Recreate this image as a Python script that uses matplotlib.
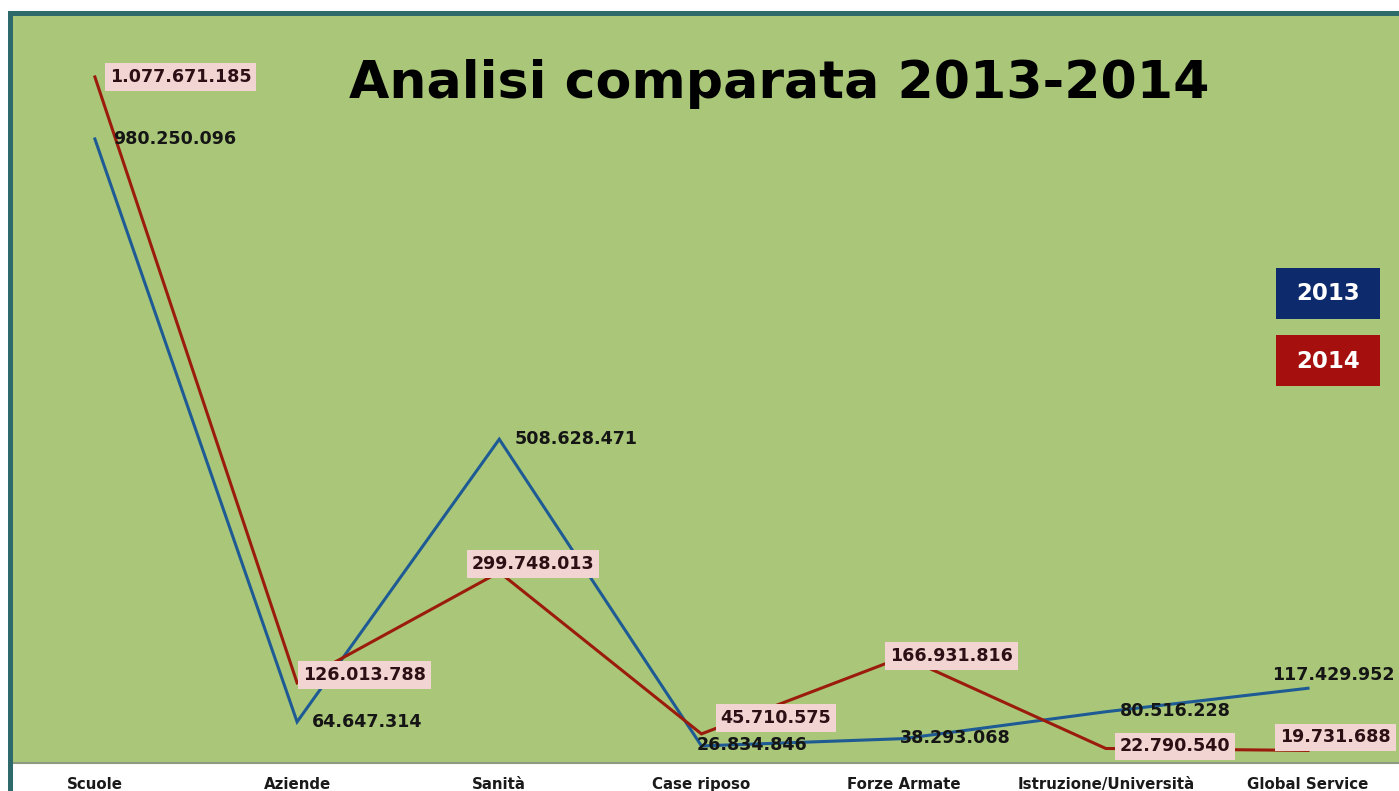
"""Analisi comparata 2013-2014 - line chart"""

import matplotlib.pyplot as plt
from matplotlib.lines import Line2D
from matplotlib.patches import Rectangle

categorie = ["Scuole", "Aziende", "Sanità", "Case riposo", "Forze Armate",
             "Istruzione/Università", "Global Service"]
valori_2013 = [980250096, 64647314, 508628471, 26834846, 38293068, 80516228, 117429952]
valori_2014 = [1077671185, 126013788, 299748013, 45710575, 166931816, 22790540, 19731688]
serie = ["2013", "2014"]

# label offsets in pixels (dx, dy, ha)
offset_2013 = [(18, 0, "left"), (15, 0, "left"), (15, 0, "left"), (-5, 1, "left"),
               (-4, 1, "left"), (14, 1, "left"), (-36, 13, "left")]
offset_2014 = [(15, 0, "left"), (6, 8, "left"), (34, 8, "center"), (19, 16, "left"),
               (48, 1, "center"), (14, 2, "left"), (-28, 13, "left")]

verde = "#aac779"
blu = "#1e5b94"
rosso = "#9b1b0c"
teal = "#2e6a6c"


def formatta(v):
    return f"{v:,}".replace(",", ".")


W, H = 1399, 791
fig = plt.figure(figsize=(W / 100, H / 100), dpi=100)
fig.patch.set_facecolor("white")
ax = fig.add_axes([12 / W, 28 / H, 1387 / W, 748 / H])
ax.set_facecolor(verde)

x = list(range(len(categorie)))
ax.plot(x, valori_2013, color=blu, lw=2.2, solid_joinstyle="miter", zorder=2)
ax.plot(x, valori_2014, color=rosso, lw=2.2, solid_joinstyle="miter", zorder=2)

for i, v in enumerate(valori_2013):
    dx, dy, ha = offset_2013[i]
    ax.annotate(formatta(v), (i, v), xytext=(dx, dy), textcoords="offset pixels",
                ha=ha, va="center", fontsize=12.6, fontweight="bold",
                family="DejaVu Sans", color="#151515", zorder=4)

for i, v in enumerate(valori_2014):
    dx, dy, ha = offset_2014[i]
    ax.annotate(formatta(v), (i, v), xytext=(dx, dy), textcoords="offset pixels",
                ha=ha, va="center", fontsize=12.6, fontweight="bold",
                family="DejaVu Sans", color="#2b0f14", zorder=5,
                bbox=dict(boxstyle="square,pad=0.28", fc="#f2d4d2", ec="none"))

ax.set_xlim(-0.41, 6.45)
ax.set_ylim(0, 1175e6)
ax.set_yticks([])
ax.set_xticks(x)
ax.set_xticklabels(categorie, fontsize=10.8, fontweight="bold", family="DejaVu Sans",
                   color="#1a1a1a")
ax.tick_params(axis="x", length=0, pad=10)
for s in ["top", "left", "right"]:
    ax.spines[s].set_visible(False)
ax.spines["bottom"].set_color("#8c9a80")
ax.spines["bottom"].set_linewidth(1.5)

# teal frame on top and left
fig.add_artist(Line2D([9.5 / W, 9.5 / W], [0, 1 - 13 / H], color=teal, lw=3.6,
                      transform=fig.transFigure, solid_capstyle="projecting"))
fig.add_artist(Line2D([9.5 / W, 1], [1 - 13 / H, 1 - 13 / H], color=teal, lw=3.6,
                      transform=fig.transFigure, solid_capstyle="projecting"))

fig.text(779 / W, 1 - 84 / H, "Analisi comparata 2013-2014", ha="center",
         va="center", fontsize=37.5, fontweight="bold", family="DejaVu Sans",
         color="black")

# legend boxes
colori_leg = ["#0c2a6c", "#a5100f"]
top_leg = [268, 335]
for nome, col, t in zip(serie, colori_leg, top_leg):
    fig.add_artist(Rectangle((1276 / W, 1 - (t + 51) / H), 104 / W, 51 / H,
                             transform=fig.transFigure, fc=col, ec="none"))
    fig.text(1328 / W, 1 - (t + 26) / H, nome, ha="center", va="center",
             fontsize=16.5, fontweight="bold", family="DejaVu Sans", color="white")

fig.savefig("out.png", dpi=100)
